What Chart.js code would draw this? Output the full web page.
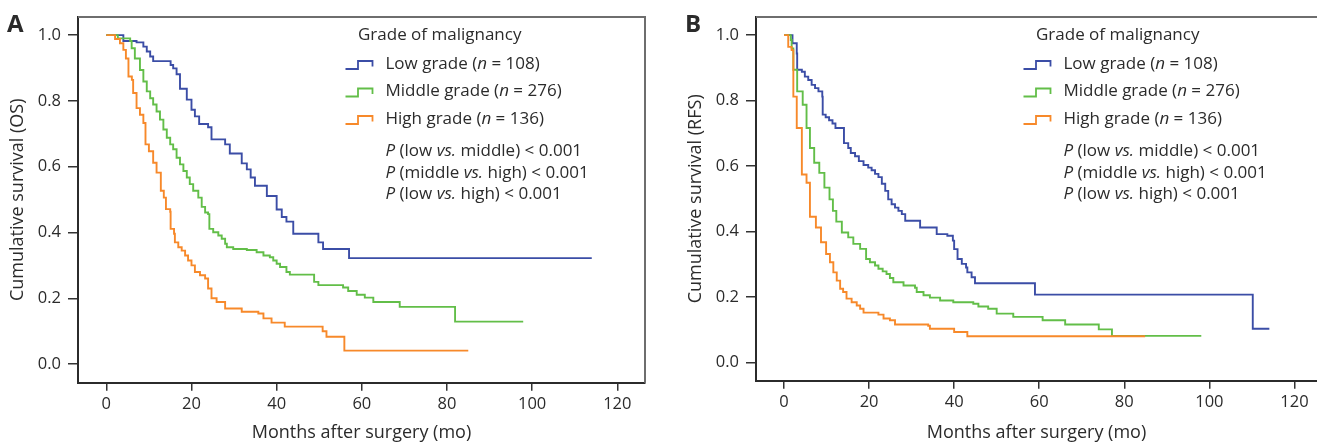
<!DOCTYPE html>
<html><head><meta charset="utf-8">
<script src="https://cdn.jsdelivr.net/npm/chart.js@4.4.1/dist/chart.umd.min.js"></script>
<style>
html,body{margin:0;padding:0;background:#fff;overflow:hidden;width:1317px;height:444px}
.panel{position:absolute;top:0}
</style></head><body>
<div class="panel" style="left:0"><canvas id="chartA" width="660" height="444" style="width:660px;height:444px"></canvas></div>
<div class="panel" style="left:678px"><canvas id="chartB" width="639" height="444" style="width:639px;height:444px"></canvas></div>
<script>
// ---- tick labels & categories ----
const xTicks = [0, 20, 40, 60, 80, 100, 120];
const yTicks = [0, 0.2, 0.4, 0.6, 0.8, 1.0];
const groupLabels = ['Low grade', 'Middle grade', 'High grade'];
const groupN = [108, 276, 136];
const pComparisons = [['low', 'middle'], ['middle', 'high'], ['low', 'high']];
const pValueText = '< 0.001';
const xTitle = 'Months after surgery (mo)';
const yTitleA = 'Cumulative survival (OS)';
const yTitleB = 'Cumulative survival (RFS)';

// ---- Panel A : overall survival (time in months, cumulative survival) ----
const osLowTime = [0, 4.0, 7.1, 8.7, 9.5, 10.3, 11.0, 15.1, 15.7, 16.5, 17.3, 18.9, 20.0, 20.8, 21.8, 23.9, 24.7, 27.9, 29.0, 31.8, 33.0, 33.9, 34.9, 37.7, 40.0, 41.2, 42.3, 43.9, 49.8, 50.9, 57.0, 114.0];
const osLowSurv = [1.0, 0.982, 0.978, 0.965, 0.95, 0.935, 0.921, 0.909, 0.899, 0.881, 0.837, 0.804, 0.773, 0.753, 0.73, 0.72, 0.683, 0.668, 0.64, 0.61, 0.592, 0.567, 0.542, 0.511, 0.47, 0.447, 0.433, 0.396, 0.37, 0.35, 0.322, 0.322];

const osMidTime = [0, 2.7, 5.6, 5.95, 6.7, 7.9, 8.7, 9.5, 10.3, 11.0, 11.8, 12.6, 13.4, 14.2, 15.0, 15.7, 16.5, 17.3, 18.1, 18.9, 19.6, 20.4, 21.6, 22.4, 23.2, 23.9, 24.2, 25.1, 26.3, 27.1, 27.9, 28.3, 29.8, 33.0, 35.3, 36.9, 38.4, 39.2, 40.0, 40.8, 42.3, 43.1, 48.8, 49.8, 55.6, 56.8, 58.8, 60.7, 62.7, 68.9, 81.9, 97.9];
const osMidSurv = [1.0, 0.99, 0.982, 0.96, 0.929, 0.894, 0.859, 0.829, 0.808, 0.789, 0.768, 0.743, 0.713, 0.688, 0.668, 0.653, 0.627, 0.607, 0.587, 0.567, 0.547, 0.527, 0.506, 0.478, 0.461, 0.456, 0.411, 0.401, 0.391, 0.381, 0.366, 0.355, 0.35, 0.347, 0.34, 0.33, 0.325, 0.315, 0.305, 0.295, 0.28, 0.272, 0.25, 0.24, 0.233, 0.222, 0.211, 0.202, 0.189, 0.174, 0.129, 0.129];

const osHighTime = [0, 2.05, 3.2, 4.0, 4.6, 5.2, 6.0, 6.3, 7.1, 7.9, 8.7, 9.2, 10.0, 11.0, 11.8, 12.8, 13.5, 14.0, 15.0, 15.1, 15.9, 16.1, 16.9, 17.7, 18.5, 19.2, 20.0, 20.8, 22.0, 23.2, 23.9, 24.7, 25.9, 27.9, 31.8, 35.7, 36.9, 38.8, 41.9, 50.8, 51.7, 55.9, 85.0];
const osHighSurv = [1.0, 0.988, 0.975, 0.955, 0.929, 0.874, 0.864, 0.824, 0.778, 0.758, 0.733, 0.668, 0.647, 0.612, 0.582, 0.527, 0.506, 0.471, 0.463, 0.411, 0.396, 0.37, 0.355, 0.345, 0.33, 0.315, 0.30, 0.28, 0.27, 0.26, 0.23, 0.20, 0.189, 0.169, 0.159, 0.154, 0.139, 0.126, 0.114, 0.10, 0.083, 0.041, 0.041];

// ---- Panel B : recurrence-free survival ----
const rfsLowTime = [0, 2.0, 3.0, 3.1, 4.2, 4.9, 5.7, 6.5, 7.3, 8.1, 9.0, 9.1, 9.8, 10.6, 11.4, 12.1, 14.1, 15.1, 15.7, 16.7, 17.6, 18.7, 19.8, 20.6, 21.4, 22.2, 23.0, 23.8, 24.5, 25.3, 26.1, 26.9, 27.7, 28.5, 32.0, 35.9, 38.4, 39.7, 40.0, 40.8, 41.8, 42.8, 43.1, 44.1, 44.9, 59.0, 110.2, 114.1];
const rfsLowSurv = [1.0, 0.975, 0.944, 0.894, 0.888, 0.873, 0.863, 0.848, 0.838, 0.828, 0.812, 0.757, 0.749, 0.74, 0.73, 0.716, 0.67, 0.655, 0.64, 0.63, 0.615, 0.603, 0.595, 0.587, 0.576, 0.566, 0.546, 0.524, 0.498, 0.483, 0.473, 0.463, 0.453, 0.433, 0.412, 0.392, 0.387, 0.372, 0.346, 0.316, 0.301, 0.29, 0.275, 0.26, 0.242, 0.207, 0.103, 0.103];

const rfsMidTime = [0, 1.6, 1.8, 2.2, 3.1, 4.4, 5.3, 6.1, 7.1, 8.3, 9.5, 10.7, 11.5, 12.3, 13.6, 15.1, 16.3, 17.9, 19.3, 20.2, 21.4, 22.2, 23.2, 24.1, 24.9, 25.7, 28.1, 30.8, 31.2, 32.8, 34.3, 36.7, 39.8, 44.5, 45.7, 48.0, 50.0, 53.9, 60.8, 66.1, 74.0, 77.1, 98.1];
const rfsMidSurv = [1.0, 0.985, 0.959, 0.894, 0.828, 0.787, 0.716, 0.655, 0.61, 0.579, 0.534, 0.498, 0.463, 0.43, 0.397, 0.382, 0.362, 0.347, 0.316, 0.306, 0.296, 0.286, 0.278, 0.27, 0.258, 0.245, 0.235, 0.228, 0.215, 0.205, 0.198, 0.189, 0.184, 0.179, 0.171, 0.164, 0.149, 0.139, 0.129, 0.116, 0.101, 0.081, 0.081];

const rfsHighTime = [0, 1.0, 1.8, 2.2, 3.0, 4.2, 5.3, 6.1, 7.5, 8.7, 9.9, 10.8, 11.6, 12.4, 13.2, 13.9, 14.7, 15.9, 17.1, 17.9, 18.7, 22.2, 23.4, 24.9, 26.1, 33.9, 34.3, 40.0, 43.1, 84.9];
const rfsHighSurv = [1.0, 0.964, 0.954, 0.812, 0.716, 0.574, 0.549, 0.445, 0.412, 0.367, 0.331, 0.306, 0.275, 0.25, 0.225, 0.215, 0.195, 0.184, 0.174, 0.164, 0.152, 0.146, 0.134, 0.129, 0.116, 0.112, 0.103, 0.093, 0.08, 0.08];

// ---- styling ----
const groupColors = ['#3b4da6', '#62be48', '#f7892a'];
const FONT = '"Open Sans", "Noto Sans", sans-serif';
const TXT = '#2b2b2b';
const LEGEND_SIZE = 17;
Chart.defaults.font.family = FONT;
Chart.defaults.font.size = 16.5;
Chart.defaults.color = TXT;

function pts(t, s) { return t.map((v, i) => ({ x: v, y: s[i] })); }

function richText(ctx, x, y, parts) {
  for (const [txt, it] of parts) {
    ctx.font = (it ? 'italic ' : '') + LEGEND_SIZE + 'px ' + FONT;
    ctx.fillText(txt, x, y);
    x += ctx.measureText(txt).width;
  }
}

const framePlugin = {
  id: 'frame',
  afterDraw(chart, args, opts) {
    const { left, top, right, bottom } = chart.chartArea;
    const ctx = chart.ctx;
    ctx.save();
    ctx.strokeStyle = '#6e6e6e';
    ctx.lineWidth = 2;
    ctx.beginPath();
    ctx.moveTo(left, top);
    ctx.lineTo(right, top);
    if (opts.right) ctx.lineTo(right, bottom);
    ctx.stroke();
    ctx.restore();
  }
};

const legendPlugin = {
  id: 'kmLegend',
  afterDraw(chart, args, opts) {
    const ctx = chart.ctx;
    const L = chart.chartArea.left;
    ctx.save();
    ctx.fillStyle = TXT;
    ctx.textBaseline = 'middle';
    ctx.textAlign = 'left';
    ctx.font = LEGEND_SIZE + 'px ' + FONT;
    ctx.fillText('Grade of malignancy', L + 280, 35);
    const rowsY = [64, 91.5, 119];
    groupLabels.forEach((lab, i) => {
      const cy = rowsY[i];
      ctx.strokeStyle = groupColors[i];
      ctx.lineWidth = 1.8;
      ctx.beginPath();
      ctx.moveTo(L + 267.5, cy + 5);
      ctx.lineTo(L + 280, cy + 5);
      ctx.lineTo(L + 280, cy - 3);
      ctx.lineTo(L + 294.5, cy - 3);
      ctx.lineTo(L + 294.5, cy + 2.5);
      ctx.stroke();
      richText(ctx, L + 307.5, cy, [[lab + ' (', false], ['n', true], [' = ' + groupN[i] + ')', false]]);
    });
    const pY = [150.7, 172.7, 194.3];
    pComparisons.forEach((p, i) => {
      richText(ctx, L + 307.5, pY[i], [['P', true], [' (' + p[0] + ' ', false], ['vs.', true], [' ' + p[1] + ') ' + pValueText, false]]);
    });
    ctx.font = 'bold 24px ' + FONT;
    ctx.textBaseline = 'alphabetic';
    ctx.fillText(opts.letter, 7, 31.5);
    ctx.restore();
  }
};

function makeChart(id, cfg) {
  const series = [
    { t: cfg.low[0], s: cfg.low[1], c: groupColors[0], order: 3, label: groupLabels[0] },
    { t: cfg.mid[0], s: cfg.mid[1], c: groupColors[1], order: 2, label: groupLabels[1] },
    { t: cfg.high[0], s: cfg.high[1], c: groupColors[2], order: 1, label: groupLabels[2] }
  ];
  return new Chart(document.getElementById(id), {
    type: 'line',
    data: {
      datasets: series.map(d => ({
        label: d.label,
        data: pts(d.t, d.s),
        borderColor: d.c,
        backgroundColor: d.c,
        borderWidth: 1.9,
        stepped: true,
        pointRadius: 0,
        fill: false,
        order: d.order
      }))
    },
    options: {
      responsive: false,
      animation: false,
      devicePixelRatio: 1,
      layout: { padding: { left: 0, top: 15, right: cfg.padRight, bottom: 0 } },
      plugins: {
        legend: { display: false },
        tooltip: { enabled: false },
        frame: { right: cfg.frameRight },
        kmLegend: { letter: cfg.letter }
      },
      scales: {
        x: {
          type: 'linear',
          min: cfg.xMin, max: cfg.xMax,
          afterBuildTicks: s => { s.ticks = xTicks.map(v => ({ value: v })); },
          afterFit: s => { s.height = cfg.xHeight; },
          grid: { drawOnChartArea: false, drawTicks: true, tickLength: 8, color: '#333', lineWidth: 1.5 },
          border: { display: true, color: '#2b2b2b', width: 2 },
          ticks: { padding: 4, color: TXT, font: { size: 16.5 }, callback: v => String(v), maxRotation: 0 },
          title: { display: true, text: xTitle, color: TXT, font: { size: 18 }, padding: { top: 0, bottom: 0.5 } }
        },
        y: {
          type: 'linear',
          min: cfg.yMin, max: cfg.yMax,
          afterBuildTicks: s => { s.ticks = yTicks.map(v => ({ value: v })); },
          afterFit: s => { s.width = 78; },
          grid: { drawOnChartArea: false, drawTicks: true, tickLength: 10, color: '#333', lineWidth: 1.5 },
          border: { display: true, color: '#2b2b2b', width: 2 },
          ticks: { padding: 7, color: TXT, font: { size: 16.5 }, callback: v => v.toFixed(1) },
          title: { display: true, text: cfg.yTitle, color: TXT, font: { size: 18 }, padding: { top: 7.5, bottom: 0 } }
        }
      }
    },
    plugins: [framePlugin, legendPlugin]
  });
}

makeChart('chartA', {
  letter: 'A', yTitle: yTitleA,
  low: [osLowTime, osLowSurv], mid: [osMidTime, osMidSurv], high: [osHighTime, osHighSurv],
  xMin: -6.65, xMax: 126.5, yMin: -0.0565, yMax: 1.0553,
  padRight: 15, frameRight: true, xHeight: 61.3
});
makeChart('chartB', {
  letter: 'B', yTitle: yTitleB,
  low: [rfsLowTime, rfsLowSurv], mid: [rfsMidTime, rfsMidSurv], high: [rfsHighTime, rfsHighSurv],
  xMin: -6.58, xMax: 125.3, yMin: -0.0559, yMax: 1.0556,
  padRight: 0, frameRight: false, xHeight: 63.3
});
</script>
</body></html>
